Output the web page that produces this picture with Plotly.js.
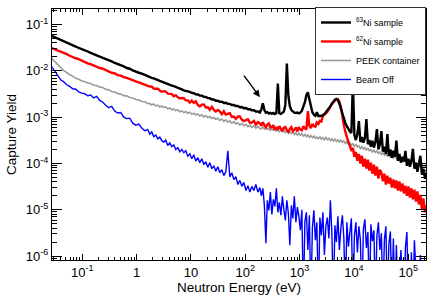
<!DOCTYPE html>
<html>
<head>
<meta charset="utf-8">
<script src="https://cdn.plot.ly/plotly-3.0.1.min.js"></script>
<style>html,body{margin:0;padding:0;background:#fff;}#chart{width:436px;height:297px;}</style>
</head>
<body>
<div id="chart"></div>
<script>
// Neutron energy (eV), shared by all four spectra
const energyEv = [
0.0274,0.0312,0.0354,0.0402,0.0457,0.0519,0.0589,0.0669,0.0760,0.0863,
0.0980,0.111,0.126,0.143,0.163,0.185,0.210,0.239,0.271,0.308,
0.349,0.397,0.451,0.512,0.581,0.660,0.750,0.851,0.967,1.10,
1.25,1.42,1.61,
1.75,1.90,2.07,2.26,2.46,2.68,2.91,3.17,3.45,3.75,
4.09,4.45,4.84,5.27,5.74,6.25,6.80,7.40,8.06,8.77,
9.55,10.4,11.3,12.3,13.4,14.6,15.9,17.3,18.8,20.5,
22.3,24.3,26.4,28.7,31.3,34.0,37.1,40.4,43.9,47.8,
52.0,56.6,61.7,67.1,73.1,79.6,86.6,94.2,103,112,
122,132,144,157,171,186,
198,211,225,240,255,272,290,309,329,351,
374,398,424,453,482,514,547,583,622,662,
706,752,801,855,911,970,1034,1102,1174,1252,
1334,1421,1514,1614,1720,1833,1953,2081,2218,2364,
2519,2684,2860,3048,3248,3461,3688,3930,4188,4463,
4756,5068,5401,5755,6133,6535,6964,7421,7908,8427,
8980,9570,10200,10870,11580,12340,13150,14010,14930,15910,
16960,18070,19260,20520,21870,23300,24830,26460,28200,30050,
32020,34120,36360,38750,41290,44000,46890,49970,53250,56740,
60470,64440,68670,73170,77980,83100,88550,94360,100600,107100,
114200,121700,129700,138200,147200,156900,167200,178200,189900,202400,
216200
];

// 63Ni sample
const ni63Yield = [
5.7e-2,5.35e-2,5.02e-2,4.66e-2,4.38e-2,4.08e-2,3.83e-2,3.55e-2,3.35e-2,3.12e-2,
2.97e-2,2.76e-2,2.62e-2,2.44e-2,2.32e-2,2.16e-2,2.04e-2,1.9e-2,1.81e-2,1.67e-2,
1.6e-2,1.48e-2,1.41e-2,1.31e-2,1.25e-2,1.15e-2,1.11e-2,1.02e-2,9.8e-3,9.1e-3,
8.7e-3,8.1e-3,7.7e-3,
7.39e-3,7.05e-3,6.85e-3,6.5e-3,6.33e-3,6.05e-3,5.88e-3,5.6e-3,5.43e-3,5.17e-3,
5.02e-3,4.78e-3,4.67e-3,4.44e-3,4.32e-3,4.09e-3,3.98e-3,3.8e-3,3.74e-3,3.56e-3,
3.51e-3,3.33e-3,3.29e-3,3.12e-3,3.09e-3,2.93e-3,2.91e-3,2.75e-3,2.73e-3,2.58e-3,
2.56e-3,2.41e-3,2.4e-3,2.26e-3,2.26e-3,2.14e-3,2.15e-3,2.03e-3,2.04e-3,1.93e-3,
1.93e-3,1.83e-3,1.84e-3,1.74e-3,1.74e-3,1.64e-3,1.66e-3,1.56e-3,1.58e-3,1.48e-3,
1.48e-3,1.4e-3,1.41e-3,1.32e-3,1.33e-3,1.26e-3,
1.49e-3,2.0e-3,1.42e-3,1.24e-3,1.28e-3,1.19e-3,1.24e-3,1.18e-3,1.23e-3,1.17e-3,
1.22e-3,5.3e-3,1.21e-3,1.17e-3,1.24e-3,1.32e-3,1.82e-3,1.44e-2,2.83e-3,1.73e-3,
1.42e-3,1.30e-3,1.25e-3,1.23e-3,1.26e-3,1.21e-3,1.25e-3,1.38e-3,1.65e-3,2.11e-3,
2.97e-3,3.44e-3,2.44e-3,1.65e-3,1.28e-3,1.13e-3,1.07e-3,1.28e-3,1.05e-3,1.07e-3,
1.06e-3,1.11e-3,1.16e-3,1.28e-3,1.40e-3,1.57e-3,1.73e-3,1.96e-3,2.19e-3,2.38e-3,
2.47e-3,2.32e-3,1.96e-3,1.53e-3,1.16e-3,9.1e-4,7.4e-4,6.4e-4,5.5e-4,4.9e-4,
4.55e-4,5.9e-3,4.1e-4,3.2e-4,4.3e-4,8.2e-4,2.9e-4,3.7e-4,2.8e-4,3.55e-4,
9.1e-4,2.6e-4,3.2e-4,2.3e-4,3.1e-4,2.2e-4,2.9e-4,5.5e-4,2.0e-4,2.6e-4,
5.0e-4,1.8e-4,2.3e-4,1.6e-4,4.3e-4,1.46e-4,2.0e-4,1.33e-4,1.87e-4,1.39e-4,
3.1e-4,1.14e-4,1.6e-4,1.04e-4,1.39e-4,1.09e-4,1.87e-4,8.9e-5,1.26e-4,8.5e-5,
1.14e-4,2.07e-4,7.7e-5,1.04e-4,6.6e-5,9.4e-5,1.46e-4,5.7e-5,7.7e-5,4.7e-5,
6.3e-5
];

// 62Ni sample
const ni62Yield = [
3.09e-2,2.92e-2,2.72e-2,2.58e-2,2.41e-2,2.29e-2,2.12e-2,2.03e-2,1.87e-2,1.79e-2,
1.65e-2,1.57e-2,1.45e-2,1.39e-2,1.29e-2,1.25e-2,1.15e-2,1.11e-2,1.03e-2,9.9e-3,
9.1e-3,8.8e-3,8.1e-3,7.9e-3,7.3e-3,7.05e-3,6.55e-3,6.35e-3,5.9e-3,5.65e-3,
5.3e-3,5.1e-3,4.75e-3,
4.56e-3,4.58e-3,4.13e-3,4.11e-3,4.13e-3,3.75e-3,3.55e-3,3.64e-3,3.57e-3,3.21e-3,
3.15e-3,3.15e-3,2.83e-3,2.97e-3,2.69e-3,2.55e-3,2.59e-3,2.56e-3,2.31e-3,2.30e-3,
2.06e-3,2.28e-3,2.03e-3,2.19e-3,1.83e-3,1.70e-3,1.86e-3,1.88e-3,1.62e-3,1.64e-3,
1.45e-3,1.67e-3,1.43e-3,1.33e-3,1.43e-3,1.34e-3,1.16e-3,1.34e-3,1.14e-3,1.19e-3,
1.22e-3,1.01e-3,1.03e-3,9.15e-4,1.03e-3,1.03e-3,8.84e-4,8.2e-4,8.7e-4,9.0e-4,
7.55e-4,7.6e-4,8.3e-4,6.9e-4,7.8e-4,7.3e-4,
6.5e-4,7.8e-4,6.7e-4,6.0e-4,6.9e-4,7.3e-4,6.0e-4,6.1e-4,6.7e-4,5.3e-4,
6.1e-4,5.3e-4,6.4e-4,5.5e-4,5.0e-4,5.9e-4,6.1e-4,5.2e-4,4.8e-4,5.6e-4,
6.1e-4,5.0e-4,5.3e-4,6.0e-4,4.9e-4,6.1e-4,5.4e-4,5.2e-4,6.4e-4,5.7e-4,
5.4e-4,1.35e-3,6.5e-4,5.8e-4,7.15e-4,6.4e-4,6.2e-4,7.7e-4,7.15e-4,8.3e-4,
8.0e-4,1.06e-3,1.11e-3,1.2e-3,1.3e-3,1.5e-3,1.65e-3,1.9e-3,2.1e-3,2.3e-3,
2.42e-3,2.45e-3,2.15e-3,1.65e-3,1.0e-3,6.7e-4,4.8e-4,3.55e-4,2.9e-4,2.4e-4,
1.87e-4,2.17e-4,1.39e-4,1.78e-4,1.14e-4,1.6e-4,9.9e-5,1.46e-4,8.5e-5,1.26e-4,
7.7e-5,1.2e-4,7.0e-5,1.04e-4,6.0e-5,9.4e-5,5.45e-5,8.5e-5,4.7e-5,7.3e-5,
6.3e-5,4.1e-5,6.0e-5,3.5e-5,5.45e-5,3.7e-5,4.9e-5,3.0e-5,4.5e-5,2.9e-5,
4.3e-5,2.6e-5,4.1e-5,2.5e-5,3.7e-5,2.25e-5,3.3e-5,2.0e-5,3.2e-5,1.84e-5,
2.9e-5,1.67e-5,2.7e-5,1.5e-5,2.5e-5,1.3e-5,2.1e-5,1.0e-5,1.75e-5,8.8e-6,
1.24e-5
];

// PEEK container
const peekYield = [
1.87e-2,1.59e-2,1.34e-2,1.16e-2,1.01e-2,9.2e-3,8.2e-3,7.7e-3,6.9e-3,6.6e-3,
6.05e-3,5.9e-3,5.45e-3,5.35e-3,4.9e-3,4.8e-3,4.45e-3,4.35e-3,3.98e-3,3.9e-3,
3.58e-3,3.5e-3,3.22e-3,3.17e-3,2.92e-3,2.88e-3,2.65e-3,2.6e-3,2.4e-3,2.36e-3,
2.17e-3,2.15e-3,1.97e-3,
1.96e-3,1.83e-3,1.93e-3,1.75e-3,1.82e-3,1.66e-3,1.74e-3,1.61e-3,1.67e-3,1.51e-3,
1.58e-3,1.44e-3,1.51e-3,1.38e-3,1.45e-3,1.31e-3,1.36e-3,1.25e-3,1.32e-3,1.21e-3,
1.28e-3,1.15e-3,1.22e-3,1.11e-3,1.17e-3,1.06e-3,1.12e-3,1.01e-3,1.08e-3,9.8e-4,
1.03e-3,9.3e-4,9.9e-4,9.0e-4,9.5e-4,8.5e-4,9.1e-4,8.1e-4,8.7e-4,7.8e-4,
8.3e-4,7.4e-4,8.0e-4,7.15e-4,7.6e-4,6.8e-4,7.3e-4,6.55e-4,7.0e-4,6.2e-4,
6.7e-4,6.0e-4,6.5e-4,5.8e-4,6.3e-4,5.7e-4,
5.6e-4,6.1e-4,5.55e-4,6.0e-4,5.4e-4,5.7e-4,5.2e-4,5.7e-4,5.2e-4,5.55e-4,
5.0e-4,5.4e-4,4.85e-4,5.3e-4,4.85e-4,5.2e-4,4.6e-4,5.0e-4,4.5e-4,4.9e-4,
4.45e-4,4.8e-4,4.25e-4,4.6e-4,4.1e-4,4.5e-4,4.05e-4,4.4e-4,3.9e-4,4.2e-4,
3.8e-4,4.1e-4,3.65e-4,4.0e-4,3.6e-4,3.9e-4,3.5e-4,3.7e-4,3.4e-4,3.75e-4,
3.35e-4,3.6e-4,3.25e-4,3.65e-4,3.25e-4,3.5e-4,3.1e-4,3.4e-4,3.05e-4,3.35e-4,
3.0e-4,3.25e-4,2.9e-4,3.2e-4,2.87e-4,3.05e-4,2.7e-4,2.95e-4,2.6e-4,2.8e-4,
2.45e-4,2.65e-4,2.35e-4,2.55e-4,2.25e-4,2.4e-4,2.1e-4,2.3e-4,2.05e-4,2.2e-4,
1.96e-4,2.1e-4,1.88e-4,2.0e-4,1.78e-4,1.93e-4,1.72e-4,1.87e-4,1.65e-4,1.77e-4,
1.56e-4,1.7e-4,1.5e-4,1.61e-4,1.44e-4,1.56e-4,1.38e-4,1.49e-4,1.31e-4,1.43e-4,
1.27e-4,1.35e-4,1.21e-4,1.3e-4,1.16e-4,1.24e-4,1.1e-4,1.19e-4,1.06e-4,1.14e-4,
1.0e-4,1.1e-4,9.7e-5,1.04e-4,9.2e-5,1.0e-4,8.9e-5,9.5e-5,8.4e-5,9.15e-5,
8.1e-5
];

// Beam off (1e-7 = empty bin, below the axis)
const beamOffYield = [
1.24e-2,9.7e-3,8.0e-3,6.4e-3,5.8e-3,5.0e-3,4.6e-3,4.1e-3,4.0e-3,3.5e-3,
3.3e-3,3.2e-3,2.9e-3,3.0e-3,2.6e-3,2.8e-3,2.3e-3,2.1e-3,1.8e-3,1.6e-3,
1.7e-3,1.35e-3,1.23e-3,1.26e-3,1.0e-3,9.3e-4,9.5e-4,7.4e-4,6.7e-4,7.1e-4,
5.8e-4,5.1e-4,5.4e-4,
4.3e-4,4.8e-4,3.8e-4,4.1e-4,3.4e-4,3.7e-4,3.1e-4,2.9e-4,3.2e-4,2.45e-4,
2.8e-4,2.3e-4,2.5e-4,2.0e-4,2.2e-4,1.78e-4,2.0e-4,1.7e-4,1.87e-4,1.43e-4,
1.61e-4,1.26e-4,1.54e-4,1.12e-4,1.33e-4,1.04e-4,1.26e-4,9.4e-5,1.09e-4,8.3e-5,
1.04e-4,7.7e-5,8.9e-5,6.8e-5,8.5e-5,6.3e-5,7.3e-5,5.45e-5,6.6e-5,1.87e-4,
5.1e-5,6.3e-5,4.5e-5,5.2e-5,3.5e-5,4.3e-5,3.2e-5,3.9e-5,2.6e-5,3.3e-5,
2.4e-5,3.2e-5,2.6e-5,3.5e-5,2.4e-5,3.0e-5,
2.0e-5,2.9e-5,1.24e-5,1.9e-6,1.6e-5,9.7e-6,2.4e-5,7.9e-6,1.67e-5,1.18e-5,
2.9e-5,8.8e-6,1.44e-5,7.6e-6,1.94e-5,1.0e-5,5.9e-6,1.6e-5,8.3e-6,1.72e-6,
1.24e-5,6.5e-6,1.94e-5,5.35e-6,1.14e-5,7.2e-6,3.6e-6,1.0e-5,1e-7,5.6e-6,
8.8e-6,1.35e-6,7.6e-6,1e-7,4.0e-6,9.7e-6,2.2e-6,5.35e-6,1e-7,6.8e-6,
2.8e-6,8.8e-6,1.05e-6,4.4e-6,6.8e-6,2.4e-6,1.6e-5,3.1e-6,1e-7,4.6e-6,
2.0e-6,7.2e-6,1.35e-6,4.0e-6,7.6e-6,2.4e-6,1e-7,5.35e-6,1.6e-6,3.3e-6,
6.5e-6,1e-7,2.7e-6,5.35e-6,1.2e-6,4.4e-6,2.2e-6,1e-7,3.8e-6,6.2e-6,
1.5e-6,3.3e-6,1e-7,4.85e-6,2.1e-6,3.6e-6,1e-7,2.7e-6,5.35e-6,1.35e-6,
3.1e-6,1e-7,2.2e-6,4.4e-6,1e-7,1.8e-6,3.4e-6,1e-7,2.4e-6,1e-7,
1.72e-6,1e-7,1e-7,1.35e-6,1e-7,1e-7,1.5e-6,3.3e-6,1e-7,1e-7,
1.2e-6,1e-7,2.2e-6,1e-7,1e-7,1e-7,1.05e-6,1e-7,1e-7,1e-7,
1e-7
];

const seriesNames = ['<sup>63</sup>Ni sample', '<sup>62</sup>Ni sample', 'PEEK container', 'Beam Off'];

const xTickVals = [0.1, 1, 10, 100, 1000, 10000, 100000];
const xTickText = ['10<sup>-1</sup>', '1', '10', '10<sup>2</sup>', '10<sup>3</sup>', '10<sup>4</sup>', '10<sup>5</sup>'];
const yTickVals = [1e-6, 1e-5, 1e-4, 1e-3, 1e-2, 1e-1];
const yTickText = ['10<sup>-6</sup>', '10<sup>-5</sup>', '10<sup>-4</sup>', '10<sup>-3</sup>', '10<sup>-2</sup>', '10<sup>-1</sup>'];

// arrow pointing at the small resonance
const arrowEnergy = 186, arrowYield = 2.7e-3;

const FONT = '"Liberation Sans", Arial, Helvetica, sans-serif';

const traces = [
  {x: energyEv, y: peekYield, name: seriesNames[2], legendrank: 3, type: 'scatter', mode: 'lines',
   line: {color: '#9a9a9a', width: 1.6}},
  {x: energyEv, y: beamOffYield, name: seriesNames[3], legendrank: 4, type: 'scatter', mode: 'lines',
   line: {color: '#0000ff', width: 1.4}},
  {x: energyEv, y: ni62Yield, name: seriesNames[1], legendrank: 2, type: 'scatter', mode: 'lines',
   line: {color: '#ff0000', width: 2.4}},
  {x: energyEv, y: ni63Yield, name: seriesNames[0], legendrank: 1, type: 'scatter', mode: 'lines',
   line: {color: '#000000', width: 2.4}}
];

const axisCommon = {
  type: 'log', showgrid: false, zeroline: false, showline: true, linecolor: '#000', linewidth: 1,
  mirror: 'allticks', ticks: 'inside', tickcolor: '#000', tickwidth: 1,
  tickmode: 'array', tickfont: {family: FONT, size: 13, color: '#000'}
};

const layout = {
  width: 436, height: 297,
  margin: {l: 52, r: 10, t: 7, b: 37},
  paper_bgcolor: '#fff', plot_bgcolor: '#fff',
  font: {family: FONT, color: '#000'},
  showlegend: true,
  legend: {x: 1, xanchor: 'right', y: 1.008, yanchor: 'top', bgcolor: '#fff',
           bordercolor: '#333', borderwidth: 1, font: {family: FONT, size: 9, color: '#000'},
           tracegroupgap: 0},
  xaxis: Object.assign({}, axisCommon, {
    range: [Math.log10(0.0278), Math.log10(212000)],
    tickvals: xTickVals, ticktext: xTickText, ticklen: 6,
    minor: {ticks: 'inside', ticklen: 3, tickcolor: '#000', dtick: 'D1', showgrid: false},
    title: {text: 'Neutron Energy (eV)', font: {family: FONT, size: 13.5, color: '#000'}, standoff: 2}
  }),
  yaxis: Object.assign({}, axisCommon, {
    range: [-6.086, -0.664],
    tickvals: yTickVals, ticktext: yTickText, ticklen: 10,
    minor: {ticks: 'inside', ticklen: 5, tickcolor: '#000', dtick: 'D1', showgrid: false},
    title: {text: 'Capture Yield', font: {family: FONT, size: 13.5, color: '#000'}, standoff: 6}
  }),
  annotations: [{
    x: Math.log10(arrowEnergy), y: Math.log10(arrowYield), xref: 'x', yref: 'y',
    text: '', showarrow: true, arrowhead: 2, arrowsize: 1, arrowwidth: 1.4, arrowcolor: '#000',
    ax: -17, ay: -23, standoff: 0
  }]
};

Plotly.newPlot('chart', traces, layout, {staticPlot: true, displayModeBar: false});
</script>
</body>
</html>
